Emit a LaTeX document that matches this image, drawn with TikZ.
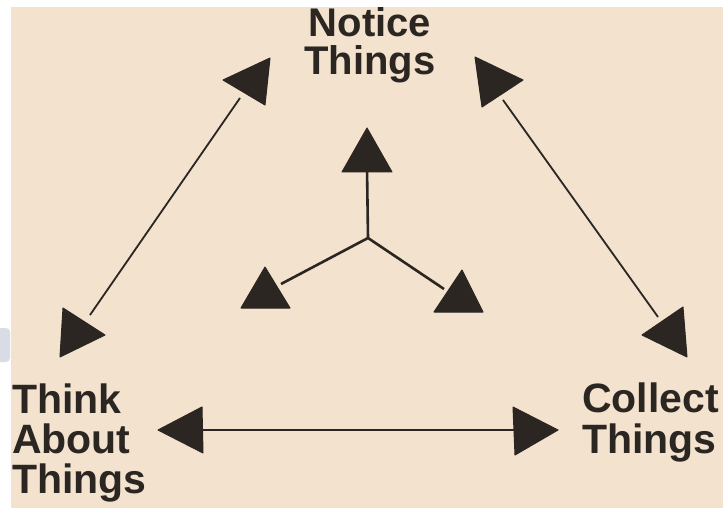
\documentclass[tikz,border=0pt]{standalone}
\usepackage{fontspec}
\setmainfont{Liberation Sans}
\definecolor{bg}{HTML}{F2E2CE}
\definecolor{ink}{HTML}{2B2622}
\definecolor{smear}{HTML}{D9DCE4}
\begin{document}
\begin{tikzpicture}[x=1pt,y=-1pt,
  lbl/.style={inner sep=0pt,text=ink},
  thinline/.style={draw=ink,line width=1.8pt},
  thickline/.style={draw=ink,line width=2.6pt},
  head/.style={fill=ink,draw=ink,line width=1pt,line join=round}]
\useasboundingbox (0,0) rectangle (723,508);
\fill[white] (0,0) rectangle (723,508);
\fill[bg] (11,7) rectangle (723,508);
\fill[smear,rounded corners=4pt] (-5,328) rectangle (10,362);
% labels
\node[lbl,anchor=north,align=center,font=\bfseries\fontsize{40}{38}\selectfont] (notice) at (370,7) {Notice\\Things};
\node[lbl,anchor=north west,align=left,font=\bfseries\fontsize{41}{40}\selectfont] (think) at (12,383.6) {Think\\About\\Things};
\node[lbl,anchor=north west,align=left,font=\bfseries\fontsize{41}{41}\selectfont] (collect) at (582,382.6) {Collect\\Things};
% left diagonal
\coordinate (la) at (240,98);
\coordinate (lb) at (90,315);
\draw[thinline] (la) -- (lb);
\fill[head] (223,80) -- (270,58) -- (265,105) -- cycle;
\fill[head] (63,308) -- (105,335) -- (60,357) -- cycle;
% right diagonal
\coordinate (ra) at (503,100);
\coordinate (rb) at (658,317);
\draw[thinline] (ra) -- (rb);
\fill[head] (475,57) -- (523,80) -- (482,107) -- cycle;
\fill[head] (683,307) -- (687,357) -- (642,335) -- cycle;
% horizontal
\coordinate (ha) at (195,430);
\coordinate (hb) at (520,430);
\draw[thickline] (ha) -- (hb);
\fill[head] (158,430) -- (202,407) -- (203,453) -- cycle;
\fill[head] (513,407) -- (558,430) -- (515,455) -- cycle;
% center
\coordinate (j) at (368,238);
\coordinate (cu) at (367,168);
\coordinate (cl) at (281,284);
\coordinate (cr) at (444,289);
\draw[thickline,line join=round] (cu) -- (j) -- (cl) (j) -- (cr);
\fill[head] (367,128) -- (392,172) -- (342,172) -- cycle;
\fill[head] (265,267) -- (290,308) -- (241,308) -- cycle;
\fill[head] (462,270) -- (483,312) -- (434,312) -- cycle;
\end{tikzpicture}
\end{document}
